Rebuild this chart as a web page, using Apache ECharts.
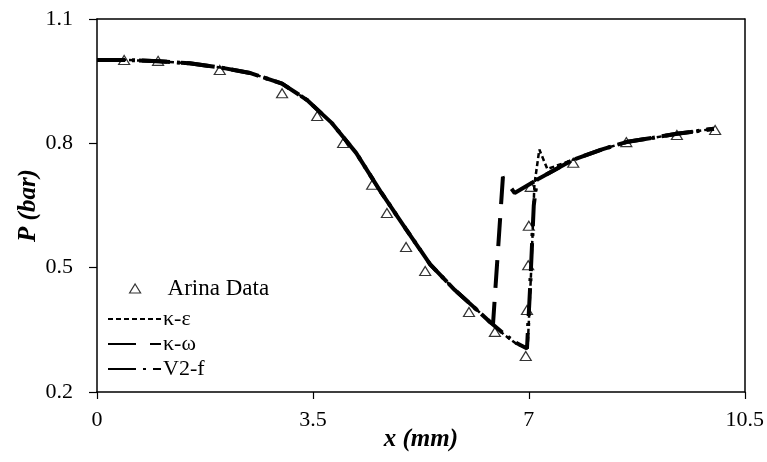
<!DOCTYPE html>
<html>
<head>
<meta charset="utf-8">
<script src="https://cdn.jsdelivr.net/npm/echarts@6/dist/echarts.min.js"></script>
<style>html,body{margin:0;padding:0;background:#fff}#c{width:767px;height:462px}</style>
</head>
<body>
<div id="c"></div>
<script>
// Experimental data (Arina)
const arinaX = [0.44, 0.99, 1.99, 3.0, 3.57, 3.99, 4.46, 4.70, 5.01, 5.32, 6.03, 6.45, 6.95, 6.97, 6.99, 7.0, 7.03, 7.72, 8.58, 9.40, 10.02];
const arinaP = [1.001, 0.999, 0.977, 0.921, 0.866, 0.801, 0.700, 0.632, 0.550, 0.492, 0.393, 0.345, 0.287, 0.398, 0.506, 0.601, 0.695, 0.753, 0.803, 0.820, 0.832];

// k-epsilon
const keX = [0, 0.5, 1.0, 1.5, 2.0, 2.5, 3.0, 3.4, 3.8, 4.2, 4.6, 5.0, 5.4, 5.8, 6.1, 6.37, 6.6, 6.8, 6.98, 7.04, 7.09, 7.17, 7.3, 7.71, 8.2, 8.58, 9.0, 9.4, 10.0];
const keP = [1.001, 1.001, 0.998, 0.993, 0.983, 0.969, 0.944, 0.905, 0.85, 0.777, 0.683, 0.595, 0.508, 0.446, 0.406, 0.369, 0.338, 0.316, 0.305, 0.50, 0.70, 0.785, 0.738, 0.760, 0.786, 0.803, 0.813, 0.823, 0.835];

// k-omega
const kwX = [0, 0.5, 1.0, 1.5, 2.0, 2.5, 3.0, 3.4, 3.8, 4.2, 4.6, 5.0, 5.4, 5.8, 6.1, 6.37, 6.42, 6.58, 6.77, 7.13, 7.71, 8.2, 8.58, 9.0, 9.4, 10.0];
const kwP = [1.001, 1.001, 0.998, 0.993, 0.983, 0.969, 0.944, 0.905, 0.85, 0.777, 0.683, 0.595, 0.508, 0.446, 0.406, 0.369, 0.365, 0.719, 0.680, 0.712, 0.760, 0.786, 0.803, 0.813, 0.823, 0.835];

// V2-f
const v2X = [0, 0.5, 1.0, 1.5, 2.0, 2.5, 3.0, 3.4, 3.8, 4.2, 4.6, 5.0, 5.4, 5.8, 6.1, 6.37, 6.6, 6.8, 6.97, 7.02, 7.08, 7.13, 7.71, 8.2, 8.58, 9.0, 9.4, 10.0];
const v2P = [1.001, 1.001, 0.998, 0.993, 0.983, 0.969, 0.944, 0.905, 0.85, 0.777, 0.683, 0.595, 0.508, 0.446, 0.406, 0.369, 0.340, 0.318, 0.305, 0.45, 0.65, 0.712, 0.760, 0.786, 0.803, 0.813, 0.823, 0.835];

const xTicks = {min: 0, max: 10.5, interval: 3.5};
const yTicks = {min: 0.2, max: 1.1, interval: 0.3};

const zip = (a, b) => a.map((v, i) => [v, b[i]]);
const font = 'Liberation Serif';
const nameStyle = {fontFamily: font, fontSize: 25, fontWeight: 'bold', fontStyle: 'italic', color: '#000'};
const axisLineStyle = {color: '#000', width: 1.5};

const chart = echarts.init(document.getElementById('c'), null, {renderer: 'canvas'});
chart.setOption({
  animation: false,
  backgroundColor: '#fff',
  grid: {left: 97, right: 22, top: 19, bottom: 70, containLabel: false},
  xAxis: [{
    type: 'value', min: xTicks.min, max: xTicks.max, interval: xTicks.interval,
    name: 'x (mm)', nameLocation: 'middle', nameGap: 35, nameMoveOverlap: false, nameTextStyle: nameStyle,
    axisLine: {show: true, onZero: false, lineStyle: axisLineStyle},
    axisTick: {show: true, inside: false, length: 7, lineStyle: {color: '#000', width: 1.2}},
    axisLabel: {fontFamily: font, fontSize: 22, color: '#000', margin: 17,
      formatter: v => (Math.round(v * 10) / 10).toString()},
    splitLine: {show: false}
  }, {
    type: 'value', min: xTicks.min, max: xTicks.max, interval: xTicks.interval, position: 'top',
    axisLine: {show: true, onZero: false, lineStyle: axisLineStyle},
    axisTick: {show: false}, axisLabel: {show: false}, splitLine: {show: false}
  }],
  yAxis: [{
    type: 'value', min: yTicks.min, max: yTicks.max, interval: yTicks.interval,
    name: 'P (bar)', nameLocation: 'middle', nameGap: 56, nameRotate: 90, nameMoveOverlap: false, nameTextStyle: nameStyle,
    axisLine: {show: true, onZero: false, lineStyle: axisLineStyle},
    axisTick: {show: true, inside: false, length: 8, lineStyle: {color: '#000', width: 1.2}},
    axisLabel: {fontFamily: font, fontSize: 22, color: '#000', margin: 24,
      formatter: v => v.toFixed(1)},
    splitLine: {show: false}
  }, {
    type: 'value', min: yTicks.min, max: yTicks.max, interval: yTicks.interval, position: 'right',
    axisLine: {show: true, onZero: false, lineStyle: axisLineStyle},
    axisTick: {show: false}, axisLabel: {show: false}, splitLine: {show: false}
  }],
  legend: [{
    orient: 'vertical', left: 129, top: 277, padding: 0,
    itemWidth: 11, itemHeight: 9, itemGap: 0, symbolKeepAspect: false,
    textStyle: {fontFamily: font, fontSize: 23, color: '#000', padding: [0, 0, 0, 22]},
    data: [{name: 'Arina Data', icon: 'path://M5,0L10,9L0,9Z',
      itemStyle: {color: '#fff', borderColor: '#000', borderWidth: 1.2}}]
  }, {
    orient: 'vertical', left: 107, top: 308, padding: 0,
    itemWidth: 53, itemHeight: 10, itemGap: 3,
    textStyle: {fontFamily: font, fontSize: 22, color: '#000', padding: [0, 0, 0, -3]},
    data: [
      {name: 'κ-ε', itemStyle: {opacity: 0}},
      {name: 'κ-ω', itemStyle: {opacity: 0}},
      {name: 'V2-f', itemStyle: {opacity: 0}}
    ]
  }],
  series: [
    {name: 'κ-ε', type: 'line', data: zip(keX, keP), showSymbol: false, symbol: 'none',
      lineStyle: {color: '#000', width: 2.5, type: [5, 3]}, itemStyle: {color: '#000'}, z: 3},
    {name: 'κ-ω', type: 'line', data: zip(kwX, kwP), showSymbol: false, symbol: 'none',
      lineStyle: {color: '#000', width: 4, type: [28, 14]}, itemStyle: {color: '#000'}, z: 3},
    {name: 'V2-f', type: 'line', data: zip(v2X, v2P), showSymbol: false, symbol: 'none',
      lineStyle: {color: '#000', width: 4, type: [28, 7, 3, 7]}, itemStyle: {color: '#000'}, z: 3},
    {name: 'Arina Data', type: 'scatter', data: zip(arinaX, arinaP), symbol: 'triangle', symbolSize: [11, 9],
      itemStyle: {color: 'rgba(255,255,255,0)', borderColor: '#000', borderWidth: 1.2}, z: 4}
  ]
});
</script>
</body>
</html>
